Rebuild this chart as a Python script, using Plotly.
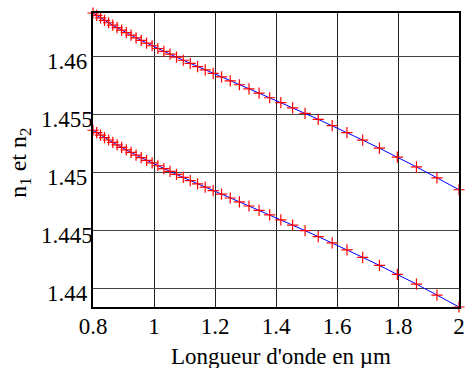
import plotly.graph_objects as go

wavelength_um = [0.8000, 0.8122, 0.8247, 0.8377, 0.8511, 0.8649, 0.8791, 0.8939, 0.9091, 0.9249,
                 0.9412, 0.9581, 0.9756, 0.9938, 1.0127, 1.0323, 1.0526, 1.0738, 1.0959, 1.1189,
                 1.1429, 1.1679, 1.1940, 1.2214, 1.2500, 1.2800, 1.3115, 1.3445, 1.3793, 1.4159,
                 1.4545, 1.4953, 1.5385, 1.5842, 1.6327, 1.6842, 1.7391, 1.7978, 1.8605, 1.9277, 2.0000]

n1 = [1.46372, 1.46351, 1.46330, 1.46309, 1.46288, 1.46267, 1.46246, 1.46224, 1.46203, 1.46181,
      1.46158, 1.46136, 1.46113, 1.46090, 1.46066, 1.46042, 1.46017, 1.45991, 1.45965, 1.45938,
      1.45910, 1.45882, 1.45852, 1.45821, 1.45788, 1.45754, 1.45719, 1.45681, 1.45642, 1.45600,
      1.45555, 1.45507, 1.45456, 1.45401, 1.45342, 1.45277, 1.45207, 1.45130, 1.45046, 1.44952, 1.44849]

n2 = [1.45362, 1.45341, 1.45320, 1.45299, 1.45278, 1.45257, 1.45236, 1.45214, 1.45193, 1.45171,
      1.45148, 1.45126, 1.45103, 1.45080, 1.45056, 1.45032, 1.45007, 1.44981, 1.44955, 1.44928,
      1.44900, 1.44872, 1.44842, 1.44811, 1.44778, 1.44744, 1.44709, 1.44671, 1.44632, 1.44590,
      1.44545, 1.44497, 1.44446, 1.44391, 1.44332, 1.44267, 1.44197, 1.44120, 1.44036, 1.43942, 1.43839]

x_ticks = [0.8, 1.0, 1.2, 1.4, 1.6, 1.8, 2.0]
x_tick_labels = ["0.8", "1", "1.2", "1.4", "1.6", "1.8", "2"]
y_ticks = [1.44, 1.445, 1.45, 1.455, 1.46]
y_tick_labels = ["1.44", "1.445", "1.45", "1.455", "1.46"]

FONT = "Liberation Serif, Times New Roman, serif"

fig = go.Figure()
for series in [n1, n2]:
    fig.add_trace(go.Scatter(
        x=wavelength_um, y=series, mode="lines+markers",
        line=dict(color="#0000ff", width=1),
        marker=dict(symbol="cross-thin", size=8, line=dict(color="#ff0000", width=1.2)),
        cliponaxis=False,
    ))

for v, t in zip(y_ticks, y_tick_labels):
    fig.add_annotation(x=-0.07, xref="paper", y=v, yref="y", text=t, showarrow=False,
                       xanchor="center", yanchor="middle", yshift=-5,
                       font=dict(family=FONT, size=23, color="black"))

fig.add_annotation(x=0.515, xref="paper", y=-0.17, yref="paper", text="Longueur d'onde en µm",
                   showarrow=False, xanchor="center", yanchor="middle",
                   font=dict(family=FONT, size=23, color="black"))
fig.add_annotation(x=-0.2, xref="paper", y=0.49, yref="paper", text="n<sub>1</sub> et n<sub>2</sub>",
                   showarrow=False, xanchor="center", yanchor="middle", textangle=-90,
                   font=dict(family=FONT, size=24, color="black"))

fig.update_layout(width=471, height=368, showlegend=False,
                  margin=dict(l=93, r=6, t=13, b=61),
                  plot_bgcolor="white", paper_bgcolor="white",
                  font=dict(family=FONT, size=23, color="black"))
fig.update_xaxes(range=[0.8, 2.0], tickvals=x_ticks, ticktext=x_tick_labels,
                 showgrid=True, gridcolor="#222", gridwidth=1, zeroline=False,
                 showline=True, linecolor="black", linewidth=1.5, mirror=True,
                 ticks="", ticklabelstandoff=-2, tickfont=dict(family=FONT, size=23, color="black"))
fig.update_yaxes(range=[min(n2), max(n1)], tickvals=y_ticks, showticklabels=False,
                 showgrid=True, gridcolor="#444", gridwidth=1, zeroline=False,
                 showline=True, linecolor="black", linewidth=1.5, mirror=True, ticks="")
fig.write_html("out.html")
